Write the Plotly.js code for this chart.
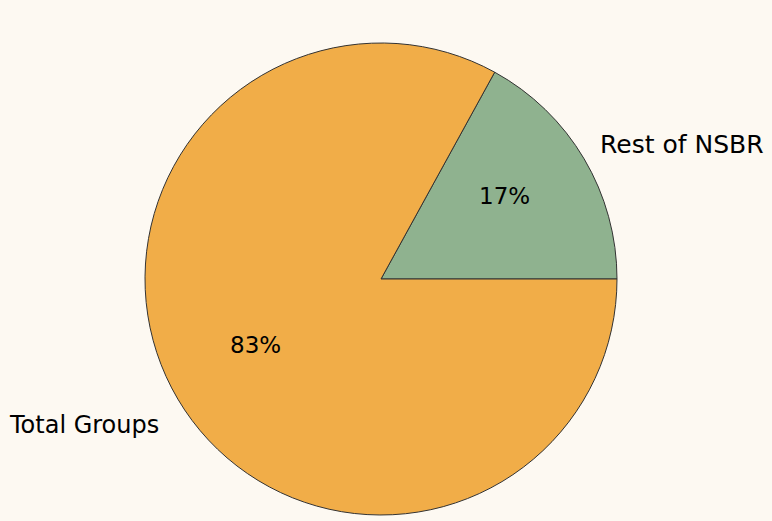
<!DOCTYPE html>
<html>
<head>
<meta charset="utf-8">
<script src="https://cdn.plot.ly/plotly-3.0.1.min.js"></script>
<style>html,body{margin:0;padding:0;background:#FDF9F2;}</style>
</head>
<body>
<div id="chart" style="width:772px;height:521px;"></div>
<script>
const labels = ["Rest of NSBR", "Total Groups"];
const values = [17, 83];
const colors = ["#8FB28F", "#F1AD48"];

const total = values.reduce((a, b) => a + b, 0);
const pctText = values.map(v => Math.round(100 * v / total) + "%");

const trace = {
  type: "pie",
  labels: labels,
  values: values,
  sort: false,
  direction: "clockwise",
  rotation: 90 - 0.17 * 360,
  marker: {colors: colors, line: {color: "#333333", width: 1}},
  textinfo: "none",
  hoverinfo: "none",
  showlegend: false,
  domain: {x: [145/772, 617/772], y: [6/521, 478/521]}
};

const F = {family: "DejaVu Sans", color: "#000000"};
function ann(text, px, py, size, anchor) {
  return {text: text, x: px/772, y: 1 - py/521, xref: "paper", yref: "paper",
    xanchor: anchor, yanchor: "middle", showarrow: false,
    font: Object.assign({size: size}, F)};
}

const layout = {
  width: 772, height: 521,
  margin: {l: 0, r: 0, t: 0, b: 0},
  paper_bgcolor: "#FDF9F2",
  plot_bgcolor: "#FDF9F2",
  font: {family: "DejaVu Sans", size: 25, color: "#000000"},
  annotations: [
    ann(labels[0], 598, 145, 25, "left"),
    ann(labels[1], 7, 425, 24, "left"),
    ann(pctText[0], 504, 196, 23, "center"),
    ann(pctText[1], 255, 345, 23, "center")
  ]
};

Plotly.newPlot("chart", [trace], layout, {displayModeBar: false, staticPlot: true});
</script>
</body>
</html>
